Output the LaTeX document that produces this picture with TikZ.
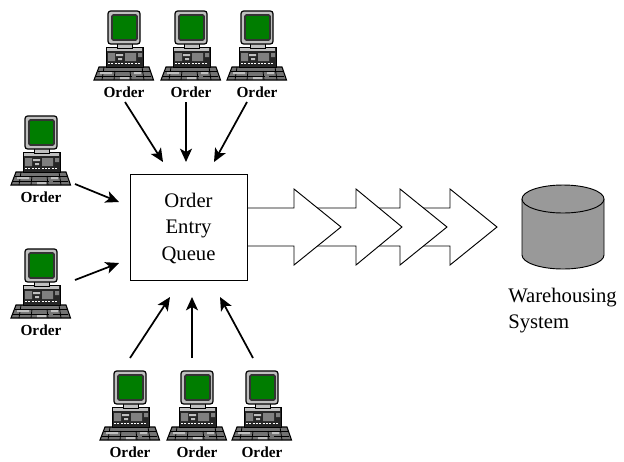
\documentclass[tikz,border=0pt]{standalone}
\usepackage{fontspec}
\setmainfont{Liberation Serif}
\usetikzlibrary{arrows.meta}
\definecolor{screengreen}{RGB}{0,125,0}
\definecolor{shellgray}{RGB}{192,192,192}
\definecolor{drumgray}{RGB}{153,153,153}
\tikzset{pics/computer/.style={code={
        % keyboard
        \draw [fill=black!55, line width=0.8pt] (-25,-25) -- (25,-25) -- (29.5,-12) -- (-30,-12) -- cycle;
        \draw [line width=0.6pt] (-26,-21) -- (26,-21) (-28,-16) -- (8,-16) (12,-16) -- (27,-16);
        \draw [line width=0.6pt] (-20,-25) -- (-22,-12) (-9,-21) -- (-10,-12) (6,-21) -- (7,-12) (18,-25) -- (20,-12);
        \fill [shellgray] (-24,-20) rectangle (-12,-18) (-4,-15) rectangle (5,-13) (10,-20) rectangle (17,-18);
        % case
        \draw [fill=black!85, line width=0.7pt] (-18,-45) rectangle (19,-25);
        \fill [shellgray] (-17,-44) rectangle (18,-41);
        \fill [gray] (-16,-39) rectangle (-9,-31) (1,-39) rectangle (12,-31) (14,-39) rectangle (18,-35);
        \fill [shellgray] (-8,-38) rectangle (-1,-36) (-6,-34) rectangle (-2,-32);
        \draw [white, line width=1.2pt, dash pattern=on 1.5pt off 1pt] (-16,-28.5) -- (16,-28.5);
        % monitor
        \draw [fill=shellgray, line width=0.7pt] (-7,-50) rectangle (8,-44);
        \draw [fill=shellgray, line width=0.9pt, rounded corners=2pt] (-16,-81) rectangle (16,-48);
        \draw [fill=screengreen, draw=black!80, line width=1.3pt, rounded corners=1pt] (-12,-77) rectangle (13,-52);
    }}}
\begin{document}
\begin{tikzpicture}[x=0.75pt, y=-0.75pt]
        \useasboundingbox (0,0) rectangle (624,461);
        \tikzset{orderlabel/.style={inner sep=0pt, font=\fontsize{11.5}{14}\selectfont\bfseries}}
        \tikzset{bigtext/.style={font=\fontsize{15.5}{19.7}\selectfont}}
        % order stations
        \node [orderlabel] (o1) at (124,92) {Order};
        \node [orderlabel] (o2) at (191,92) {Order};
        \node [orderlabel] (o3) at (257,92) {Order};
        \node [orderlabel] (o4) at (41,197) {Order};
        \node [orderlabel] (o5) at (41,330) {Order};
        \node [orderlabel] (o6) at (130,452) {Order};
        \node [orderlabel] (o7) at (197,452) {Order};
        \node [orderlabel] (o8) at (262,452) {Order};
        \pic at (o1) {computer};
        \pic at (o2) {computer};
        \pic at (o3) {computer};
        \pic at (o4) {computer};
        \pic at (o5) {computer};
        \pic at (o6) {computer};
        \pic at (o7) {computer};
        \pic at (o8) {computer};
        % big arrows, last one first
        \tikzset{flowarrow/.style={draw, fill=white, line width=0.7pt}}
        \draw [flowarrow] (400,208) -- (450,208) -- (450,189) -- (497,227) -- (450,265) -- (450,246) -- (400,246);
        \draw [flowarrow] (356,208) -- (400,208) -- (400,189) -- (447,227) -- (400,265) -- (400,246) -- (356,246);
        \draw [flowarrow] (294,208) -- (356,208) -- (356,189) -- (402,227) -- (356,265) -- (356,246) -- (294,246);
        \draw [flowarrow] (247,208) -- (294,208) -- (294,189) -- (341,227) -- (294,265) -- (294,246) -- (247,246);
        % queue
        \node [draw, bigtext, fill=white, align=center, line width=0.7pt, minimum width=87.75pt, minimum height=79.5pt, inner sep=0pt] (queue) at (188.5,227) {\rule{0pt}{12.8pt}Order\\Entry\\Queue};
        % warehouse
        \draw [fill=drumgray, line width=0.7pt] (522,199) -- (522,255) arc [start angle=180, end angle=0, x radius=41, y radius=14] -- (604,199);
        \draw [fill=drumgray, line width=0.7pt] (563,199) ellipse [x radius=41, y radius=14];
        \node [bigtext, anchor=west, align=left, inner sep=0pt] (wh) at (508,310.5) {Warehousing\\System};
        % feeds
        \tikzset{feedarrow/.style={-{Stealth[length=10pt, width=9pt, inset=2.5pt]}, line width=1.3pt}};
        \path ([shift={(1,10)}]o1.center) edge [feedarrow] ([shift={(-25.5,-65)}]queue.center);
        \path ([shift={(-5,10)}]o2.center) edge [feedarrow] ([shift={(-2.5,-65)}]queue.center);
        \path ([shift={(-10,10)}]o3.center) edge [feedarrow] ([shift={(25.5,-65)}]queue.center);
        \path ([shift={(34,-13)}]o4.center) edge [feedarrow] ([shift={(-69.5,-25)}]queue.center);
        \path ([shift={(34,-50)}]o5.center) edge [feedarrow] ([shift={(-69.5,36)}]queue.center);
        \path ([shift={(0,-94)}]o6.center) edge [feedarrow] ([shift={(-18.5,70)}]queue.center);
        \path ([shift={(-5,-94)}]o7.center) edge [feedarrow] ([shift={(3.5,70)}]queue.center);
        \path ([shift={(-9,-94)}]o8.center) edge [feedarrow] ([shift={(31.5,70)}]queue.center);
      \end{tikzpicture}
\end{document}
